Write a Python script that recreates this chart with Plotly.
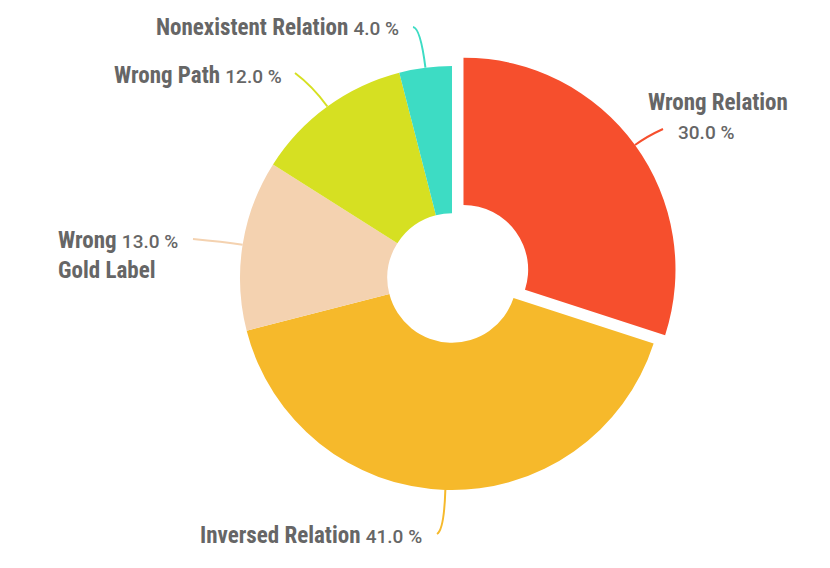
import math
import plotly.graph_objects as go

# ---- data ----
labels = ["Wrong Relation", "Inversed Relation", "Wrong Gold Label", "Wrong Path", "Nonexistent Relation"]
values = [30.0, 41.0, 13.0, 12.0, 4.0]
pulls = [0.067, 0, 0, 0, 0]
colors = ["#F64F2D", "#F6B92B", "#F4D2B0", "#D6E022", "#3DDCC4"]

# ---- layout constants (pixels, in window coordinates) ----
W, H = 830, 568
OFF = 8  # default page body margin
CX, CY, R = 452, 278, 212
HOLE = 0.305
NAME_FONT = "Liberation Sans Narrow, Roboto Condensed, Arial Narrow, Roboto, sans-serif"
TXT = "#666666"

# label leader end points (px) and control distances
leader_end = [(663, 129), (437, 534), (193, 239), (295, 73), (413, 27)]
ctrl_dist = [15, 40, 20, 25, 40]


def px(x):
    return (x - OFF) / W


def py(y):
    return 1 - (y - OFF) / H


maxpull = max(pulls)
side = 2 * R * (1 + maxpull)
dom_y = [py(CY) - side / 2 / H, py(CY) + side / 2 / H]
dom_x = [px(CX) - 0.35, px(CX) + 0.35]

fig = go.Figure(go.Pie(
    labels=labels, values=values, pull=pulls, hole=HOLE,
    sort=False, direction="clockwise", rotation=0,
    marker=dict(colors=colors, line=dict(width=0)),
    textinfo="none", hoverinfo="label+percent",
    domain=dict(x=dom_x, y=dom_y),
))

shapes = []
total = sum(values)
cum = 0
for i, v in enumerate(values):
    mid = (cum + v / 2) / total * 2 * math.pi
    cum += v
    dx, dy = math.sin(mid), -math.cos(mid)
    ox, oy = CX + pulls[i] * R * dx, CY + pulls[i] * R * dy
    ex, ey = ox + R * dx, oy + R * dy
    cx_, cy_ = ex + ctrl_dist[i] * dx, ey + ctrl_dist[i] * dy
    lx, ly = leader_end[i]
    path = f"M {px(ex)},{py(ey)} Q {px(cx_)},{py(cy_)} {px(lx)},{py(ly)}"
    shapes.append(dict(type="path", xref="paper", yref="paper", path=path,
                       line=dict(color=colors[i], width=2)))


def pct(v):
    return f'<span style="font-family:Roboto;font-size:19px;font-weight:500">{v:.1f} %</span>'


def name(t):
    return f"<b>{t}</b>"


annotations = [
    dict(x=px(646), y=py(103), xanchor="left", yanchor="middle", text=name(labels[0])),
    dict(x=px(676), y=py(133), xanchor="left", yanchor="middle", text=pct(values[0])),
    dict(x=px(424), y=py(535), xanchor="right", yanchor="middle",
         text=name(labels[1]) + " " + pct(values[1])),
    dict(x=px(180), y=py(256), xanchor="right", yanchor="middle", align="left",
         text=name("Wrong") + " " + pct(values[2]) + "<br>" + name("Gold Label")),
    dict(x=px(284), y=py(75), xanchor="right", yanchor="middle",
         text=name(labels[3]) + " " + pct(values[3])),
    dict(x=px(401), y=py(27), xanchor="right", yanchor="middle",
         text=name(labels[4]) + " " + pct(values[4])),
]
for a in annotations:
    a.update(xref="paper", yref="paper", showarrow=False,
             font=dict(family=NAME_FONT, size=23, color=TXT))

fig.update_layout(
    width=W, height=H, margin=dict(l=0, r=0, t=0, b=0),
    paper_bgcolor="white", plot_bgcolor="white", showlegend=False,
    shapes=shapes, annotations=annotations,
)

fig.write_html("out.html")
